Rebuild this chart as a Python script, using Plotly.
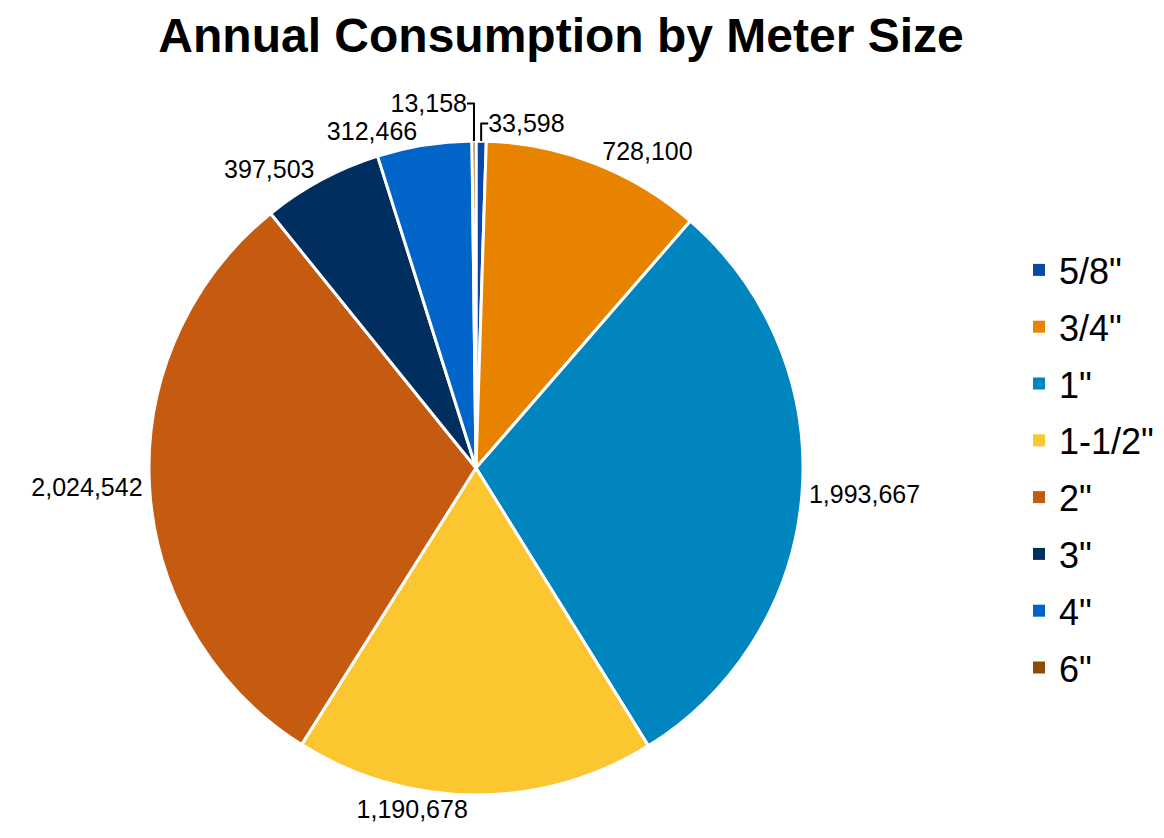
import plotly.graph_objects as go

sizes = ['5/8"', '3/4"', '1"', '1-1/2"', '2"', '3"', '4"', '6"']
consumption = [33598, 728100, 1993667, 1190678, 2024542, 397503, 312466, 13158]
colors = ['#0A47A9', '#E88300', '#0085BF', '#FCC630', '#C55A11', '#002F5F', '#0064C8', '#8B4B00']

W, H = 1164, 838
cx, cy, half = 476, 468, 327

fig = go.Figure()
fig.add_trace(go.Pie(
    labels=sizes, values=consumption, sort=False, direction='clockwise', rotation=0,
    marker=dict(colors=colors, line=dict(color='white', width=3)),
    textposition='outside', texttemplate='%{value:,}',
    textfont=dict(family='Liberation Sans, Arial', size=25, color='#000000'),
    showlegend=False, hoverinfo='label+value',
    domain=dict(x=[(cx - half) / W, (cx + half) / W],
                y=[1 - (cy + half) / H, 1 - (cy - half) / H]),
))
for s, c in zip(sizes, colors):
    fig.add_trace(go.Scatter(
        x=[None], y=[None], mode='markers', name=s, legendgroup=s,
        marker=dict(symbol='square', size=16, color=c, line=dict(width=0)),
    ))

fig.update_layout(
    width=W, height=H,
    margin=dict(l=0, r=0, t=0, b=0, autoexpand=False),
    paper_bgcolor='white', plot_bgcolor='white',
    title=dict(text='<b>Annual Consumption by Meter Size</b>', x=0.482, xanchor='center',
               y=0.958, yanchor='middle',
               font=dict(family='Liberation Sans, Arial', size=48, color='#000000')),
    xaxis=dict(visible=False), yaxis=dict(visible=False),
    legend=dict(x=1019 / W, y=1 - 469 / H, xanchor='left', yanchor='middle',
                font=dict(family='Liberation Sans, Arial', size=36, color='#000000'),
                tracegroupgap=7, itemsizing='constant', bgcolor='rgba(0,0,0,0)'),
)
fig.write_html('out.html')
